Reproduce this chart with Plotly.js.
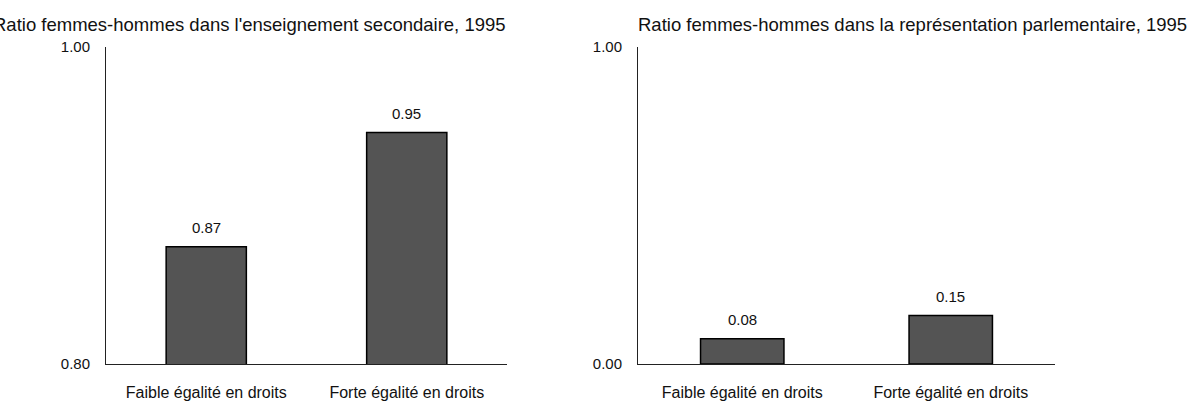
<!DOCTYPE html>
<html>
<head>
<meta charset="utf-8">
<script src="https://cdn.plot.ly/plotly-3.0.1.min.js"></script>
<style>html,body{margin:0;padding:0;background:#fff;}#chart{width:1203px;height:402px;}</style>
</head>
<body>
<div id="chart"></div>
<script>
const categories = ["Faible égalité en droits", "Forte égalité en droits"];
const educationValues = [0.874, 0.946];
const parliamentValues = [0.08, 0.153];
const leftTitle = "Ratio femmes-hommes dans l'enseignement secondaire, 1995";
const rightTitle = "Ratio femmes-hommes dans la représentation parlementaire, 1995";
const leftTicks = [0.8, 1.0];
const rightTicks = [0, 1];

const FONT = "Liberation Sans, Arial, sans-serif";
const barStyle = {color: "#545454", line: {color: "#000", width: 1.5}};

const traces = [
  {type: "bar", x: categories, y: educationValues, xaxis: "x", yaxis: "y", width: 0.4, marker: barStyle, hoverinfo: "skip"},
  {type: "bar", x: categories, y: parliamentValues, xaxis: "x2", yaxis: "y2", width: 0.4, marker: barStyle, hoverinfo: "skip"}
];

function valueLabels(vals, xr, yr) {
  return vals.map((v, i) => ({
    x: categories[i], y: v, xref: xr, yref: yr,
    text: v.toFixed(2), showarrow: false, yanchor: "bottom", yshift: 9,
    font: {family: FONT, size: 15, color: "#111"}
  }));
}

const xCommon = {
  type: "category", range: [-0.5, 1.5], showline: true, linecolor: "#222", linewidth: 1,
  ticks: "outside", ticklen: 14, tickcolor: "rgba(0,0,0,0)", showgrid: false, zeroline: false,
  tickfont: {family: FONT, size: 16, color: "#111"}, fixedrange: true
};
const yCommon = {
  showline: true, linecolor: "#222", linewidth: 1, ticks: "outside", ticklen: 12,
  tickcolor: "rgba(0,0,0,0)", showgrid: false, zeroline: false, tickformat: ".2f",
  tickfont: {family: FONT, size: 15, color: "#111"}, fixedrange: true
};

const W = 1203, H = 402, mt = 47, mb = 38;
const ph = H - mt - mb;
const titleY = (H - mb - 25) / ph;

const layout = {
  width: W, height: H,
  margin: {l: 0, r: 0, t: mt, b: mb, pad: 0},
  paper_bgcolor: "#fff", plot_bgcolor: "#fff",
  showlegend: false,
  font: {family: FONT, color: "#111"},
  xaxis: Object.assign({}, xCommon, {domain: [106 / W, 507 / W], anchor: "y"}),
  yaxis: Object.assign({}, yCommon, {range: [0.8, 1.0], tickvals: leftTicks, anchor: "x"}),
  xaxis2: Object.assign({}, xCommon, {domain: [638 / W, 1055 / W], anchor: "y2"}),
  yaxis2: Object.assign({}, yCommon, {range: [0, 1], tickvals: rightTicks, anchor: "x2"}),
  annotations: [
    {text: leftTitle, xref: "paper", yref: "paper", x: 508 / W, y: titleY, xanchor: "right", yanchor: "middle",
     showarrow: false, font: {family: FONT, size: 18.5, color: "#111"}},
    {text: rightTitle, xref: "paper", yref: "paper", x: 1189 / W, y: titleY, xanchor: "right", yanchor: "middle",
     showarrow: false, font: {family: FONT, size: 18.5, color: "#111"}}
  ].concat(valueLabels(educationValues, "x", "y"), valueLabels(parliamentValues, "x2", "y2"))
};

Plotly.newPlot("chart", traces, layout, {displayModeBar: false, staticPlot: true});
</script>
</body>
</html>
